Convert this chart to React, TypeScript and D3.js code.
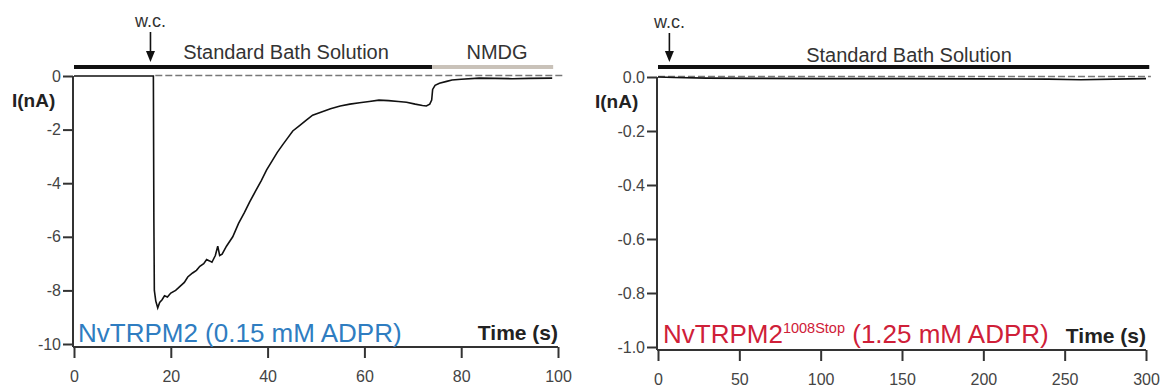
import * as d3 from 'd3';
import React, { useRef, useEffect } from 'react';

// left trace: NvTRPM2 (0.15 mM ADPR), time (s) vs current (nA)
const leftTime = [
  0, 16.4, 16.5, 16.6, 16.9, 17.3, 17.7, 18.2, 18.7, 19.3, 20, 21, 21.9, 22.8, 23.5, 24.5, 25.3, 26, 26.8,
  27.4, 28, 28.5, 29.2, 29.7, 30.1, 30.6, 31.5, 32.8, 34, 35.2, 36.3, 37.5, 38.7, 39.8, 41, 42, 43.1, 44.2,
  45.2, 46.6, 48, 49.3, 51, 53, 55, 57, 59, 61, 63, 65, 67, 68.7, 70.5, 72, 72.8, 73.5, 73.9, 74.1, 74.6,
  75.5, 77, 78.1, 80, 83.7, 87, 90.5, 94, 98.8,
];
const leftCurrent = [
  0, 0, -5.3, -8.0, -8.4, -8.65, -8.45, -8.35, -8.2, -8.25, -8.1, -8.0, -7.85, -7.7, -7.5, -7.35, -7.25,
  -7.1, -7.0, -6.85, -6.9, -6.95, -6.7, -6.35, -6.7, -6.65, -6.35, -6.0, -5.5, -5.1, -4.7, -4.3, -3.9,
  -3.5, -3.15, -2.85, -2.57, -2.3, -2.05, -1.85, -1.65, -1.46, -1.35, -1.22, -1.12, -1.05, -1.0, -0.95,
  -0.9, -0.92, -0.95, -0.98, -1.05, -1.1, -1.12, -1.05, -0.9, -0.5, -0.35, -0.27, -0.2, -0.15, -0.12,
  -0.08, -0.09, -0.1, -0.09, -0.08,
];

// right trace: NvTRPM2 1008Stop (1.25 mM ADPR)
const rightTime = [0, 10, 30, 60, 100, 150, 200, 240, 260, 280, 300];
const rightCurrent = [0, -0.002, -0.004, -0.005, -0.006, -0.006, -0.007, -0.008, -0.01, -0.008, -0.006];

const leftXTicks = [0, 20, 40, 60, 80, 100];
const leftYTicks = [0, -2, -4, -6, -8, -10];
const rightXTicks = [0, 50, 100, 150, 200, 250, 300];
const rightYTicks = [0, -0.2, -0.4, -0.6, -0.8, -1.0];

// solution bars: [start, end] in seconds
const leftStandard = [0, 74];
const leftNmdg = [74, 99];
const rightStandard = [0, 302];
const leftWc = 15.8;
const rightWc = 7;

const FONT = '"Liberation Sans", Arial, sans-serif';

const App: React.FC = () => {
  const svgRef = useRef<SVGSVGElement | null>(null);

  useEffect(() => {
    document.body.style.margin = '0';
    const svg = d3.select(svgRef.current).attr('width', 1162).attr('height', 390);
    svg.selectAll('*').remove();
    svg.append('rect').attr('width', 1162).attr('height', 390).attr('fill', '#fff');

    const panel = (opts: {
      x: d3.ScaleLinear<number, number>;
      y: d3.ScaleLinear<number, number>;
      xTicks: number[];
      yTicks: number[];
      yFmt: (d: number) => string;
      time: number[];
      current: number[];
      dashFrom: number;
      dashTo: number;
      wc: number;
      wcBase: number;
      titleBase: number;
      ylabX: number;
      ylabBase: number;
    }) => {
      const { x, y } = opts;
      const g = svg.append('g').style('font-family', FONT);
      const axisY = y(opts.yTicks[opts.yTicks.length - 1]) + 3;

      // x axis
      const xa = g.append('g')
        .attr('transform', `translate(0, ${axisY})`)
        .call(d3.axisBottom(x).tickValues(opts.xTicks).tickSize(11).tickSizeOuter(0).tickPadding(13)
          .tickFormat(d => String(d)));
      // y axis
      const ya = g.append('g')
        .attr('transform', `translate(${x(0) - 1}, 0)`)
        .call(d3.axisLeft(y).tickValues(opts.yTicks).tickSize(10).tickSizeOuter(0).tickPadding(2)
          .tickFormat(d => opts.yFmt(d as number)));
      ya.select('.domain').attr('d', `M0,${y(0)}V${axisY}`);
      xa.select('.domain').attr('d', `M${x(0) - 1},0H${x.range()[1]}`);
      [xa, ya].forEach(a => {
        a.select('.domain').attr('stroke', '#333').attr('stroke-width', 2);
        a.selectAll('.tick line').attr('stroke', '#333').attr('stroke-width', 2);
        a.selectAll('.tick text').attr('fill', '#444').style('font-size', '16px').style('font-family', FONT);
      });

      // zero baseline, dashed
      g.append('line')
        .attr('x1', x(opts.dashFrom)).attr('x2', x(opts.dashTo))
        .attr('y1', y(0) - 0.5).attr('y2', y(0) - 0.5)
        .attr('stroke', '#777').attr('stroke-width', 1.5).attr('stroke-dasharray', '7,3');

      // current trace
      const line = d3.line<number>().x((_, i) => x(opts.time[i])).y(d => y(d));
      g.append('path').datum(opts.current).attr('d', line)
        .attr('fill', 'none').attr('stroke', '#111').attr('stroke-width', 1.6);

      // w.c. arrow
      const ax = x(opts.wc);
      g.append('text').attr('x', ax).attr('y', opts.wcBase).attr('text-anchor', 'middle')
        .style('font-size', '18px').attr('fill', '#333').text('w.c.');
      g.append('line').attr('x1', ax).attr('x2', ax).attr('y1', opts.wcBase + 5).attr('y2', 54)
        .attr('stroke', '#111').attr('stroke-width', 1.6);
      g.append('path').attr('d', `M${ax - 4.5},51L${ax + 4.5},51L${ax},62Z`).attr('fill', '#111');

      // y label
      g.append('text').attr('x', opts.ylabX).attr('y', opts.ylabBase)
        .style('font-size', '19px').style('font-weight', 'bold').attr('fill', '#222').text('I(nA)');

      // Time label
      g.append('text').attr('x', x.range()[1]).attr('y', axisY - 7).attr('text-anchor', 'end')
        .style('font-size', '21px').style('font-weight', 'bold').attr('fill', '#222').text('Time (s)');
      return g;
    };

    const lx = d3.scaleLinear().domain([0, 100]).range([74, 558]);
    const ly = d3.scaleLinear().domain([-10, 0]).range([344, 76]);
    const lg = panel({
      x: lx, y: ly, xTicks: leftXTicks, yTicks: leftYTicks, yFmt: d => String(d),
      time: leftTime, current: leftCurrent, dashFrom: 16.8, dashTo: 101,
      wc: leftWc, wcBase: 27, titleBase: 59, ylabX: 12, ylabBase: 107,
    });
    lg.append('rect').attr('x', lx(leftStandard[0])).attr('width', lx(leftStandard[1]) - lx(leftStandard[0]))
      .attr('y', 65).attr('height', 4).attr('fill', '#111');
    lg.append('rect').attr('x', lx(leftNmdg[0])).attr('width', lx(leftNmdg[1]) - lx(leftNmdg[0]))
      .attr('y', 65).attr('height', 4).attr('fill', '#c9c2b9');
    lg.append('text').attr('x', 286).attr('y', 59).attr('text-anchor', 'middle')
      .style('font-size', '20px').attr('fill', '#333').text('Standard Bath Solution');
    lg.append('text').attr('x', 497).attr('y', 59).attr('text-anchor', 'middle')
      .style('font-size', '20px').attr('fill', '#333').text('NMDG');
    lg.append('text').attr('x', 78).attr('y', 342)
      .style('font-size', '26px').attr('fill', '#2f7dc1').text('NvTRPM2 (0.15 mM ADPR)');

    const rx = d3.scaleLinear().domain([0, 300]).range([658, 1146]);
    const ry = d3.scaleLinear().domain([-1, 0]).range([347, 77]);
    const rg = panel({
      x: rx, y: ry, xTicks: rightXTicks, yTicks: rightYTicks, yFmt: d => d.toFixed(1),
      time: rightTime, current: rightCurrent, dashFrom: 0, dashTo: 303,
      wc: rightWc, wcBase: 28, titleBase: 62, ylabX: 595, ylabBase: 108,
    });
    rg.append('rect').attr('x', rx(rightStandard[0])).attr('width', rx(rightStandard[1]) - rx(rightStandard[0]))
      .attr('y', 65).attr('height', 4).attr('fill', '#111');
    rg.append('text').attr('x', 909).attr('y', 62).attr('text-anchor', 'middle')
      .style('font-size', '20px').attr('fill', '#333').text('Standard Bath Solution');
    const red = rg.append('text').attr('x', 663).attr('y', 343)
      .style('font-size', '26px').attr('fill', '#cf2038');
    red.append('tspan').text('NvTRPM2');
    red.append('tspan').attr('dy', -10).style('font-size', '14.5px').text('1008Stop');
    red.append('tspan').attr('dy', 10).text(' (1.25 mM ADPR)');
  }, []);

  return <svg ref={svgRef} style={{ display: 'block' }}></svg>;
};

export default App;
